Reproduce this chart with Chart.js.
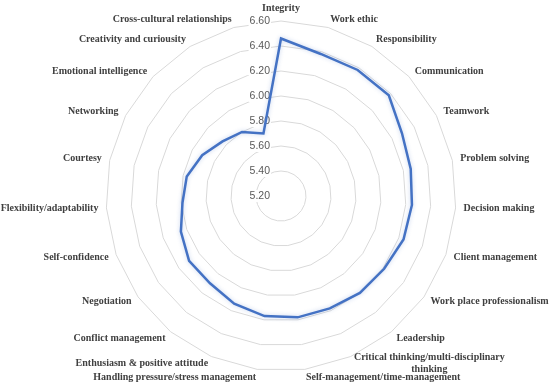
<!DOCTYPE html>
<html>
<head>
<meta charset="utf-8">
<script src="https://cdn.jsdelivr.net/npm/chart.js@4/dist/chart.umd.min.js"></script>
<style>
  body { margin: 0; background: #fff; }
  #wrap { width: 550px; height: 389px; position: relative; }
</style>
</head>
<body>
<div id="wrap"><canvas id="chart"></canvas></div>
<script>
const skills = [
  'Integrity', 'Work ethic', 'Responsibility', 'Communication', 'Teamwork',
  'Problem solving', 'Decision making', 'Client management', 'Work place professionalism',
  'Leadership', ['Critical thinking/multi-disciplinary', 'thinking'],
  'Self-management/time-management', 'Handling pressure/stress management',
  'Enthusiasm & positive attitude', 'Conflict management', 'Negotiation',
  'Self-confidence', 'Flexibility/adaptability', 'Courtesy', 'Networking',
  'Emotional intelligence', 'Creativity and curiousity', 'Cross-cultural relationships'
];
const scores = [
  6.46, 6.38, 6.38, 6.38, 6.29, 6.26, 6.25, 6.24, 6.21, 6.20, 6.18, 6.18,
  6.17, 6.14, 6.10, 6.10, 6.05, 5.99, 5.97, 5.91, 5.84, 5.80, 5.72
];
const tickValues = [5.2, 5.4, 5.6, 5.8, 6.0, 6.2, 6.4, 6.6];

// value labels drawn left of the vertical axis, with a white box behind
const tickLabels = {
  id: 'tickLabels',
  beforeDatasetsDraw(chart) {
    const scale = chart.scales.r;
    const ctx = chart.ctx;
    ctx.save();
    ctx.font = '10.5px "Liberation Sans", Arial, sans-serif';
    ctx.textAlign = 'right';
    ctx.textBaseline = 'middle';
    tickValues.forEach(v => {
      const y = scale.yCenter - scale.getDistanceFromCenterForValue(v);
      const x = scale.xCenter - 11;
      const txt = v.toFixed(2);
      const w = ctx.measureText(txt).width;
      ctx.fillStyle = '#fff';
      ctx.fillRect(x - w - 1, y - 6, w + 2, 12);
      ctx.fillStyle = '#595959';
      ctx.fillText(txt, x, y + 0.5);
    });
    ctx.restore();
  }
};

// category labels placed just outside the outer ring
const skillLabels = {
  id: 'skillLabels',
  afterDraw(chart) {
    const scale = chart.scales.r;
    const ctx = chart.ctx;
    ctx.save();
    ctx.font = 'bold 10px "Liberation Serif", "Times New Roman", serif';
    ctx.fillStyle = '#404040';
    const n = skills.length;
    skills.forEach((label, i) => {
      const p = scale.getPointPosition(i, scale.drawingArea + 8);
      const lines = Array.isArray(label) ? label : [label];
      const deg = i * 360 / n;
      const lh = 12;
      const maxW = Math.max(...lines.map(l => ctx.measureText(l).width));
      let left;
      if (deg === 0 || deg === 180) left = p.x - maxW / 2;
      else if (deg < 180) left = p.x;
      else left = p.x - maxW;
      let top = p.y - lines.length * lh / 2;
      if (deg === 0) top = p.y - lines.length * lh + 1;
      ctx.textAlign = 'center';
      ctx.textBaseline = 'middle';
      lines.forEach((l, k) => {
        ctx.fillText(l, left + maxW / 2, top + lh / 2 + k * lh);
      });
    });
    ctx.restore();
  }
};

const glow = {
  id: 'glow',
  beforeDatasetDraw(chart) {
    chart.ctx.save();
    chart.ctx.shadowColor = 'rgba(68,114,196,0.3)';
    chart.ctx.shadowBlur = 4;
  },
  afterDatasetDraw(chart) {
    chart.ctx.restore();
  }
};

new Chart(document.getElementById('chart').getContext('2d'), {
  type: 'radar',
  data: {
    labels: skills,
    datasets: [{
      data: scores,
      borderColor: '#4472C4',
      borderWidth: 2.5,
      fill: false,
      pointRadius: 0,
      pointHoverRadius: 0,
      tension: 0
    }]
  },
  options: {
    responsive: true,
    maintainAspectRatio: false,
    animation: false,
    layout: { padding: { left: 106, right: 94, top: 21, bottom: 18 } },
    plugins: {
      legend: { display: false },
      tooltip: { enabled: false }
    },
    scales: {
      r: {
        min: 5.2,
        max: 6.6,
        ticks: { stepSize: 0.2, display: false },
        grid: { color: '#d9d9d9', lineWidth: 1 },
        angleLines: { display: false },
        pointLabels: { display: false }
      }
    }
  },
  plugins: [tickLabels, skillLabels, glow]
});
</script>
</body>
</html>
